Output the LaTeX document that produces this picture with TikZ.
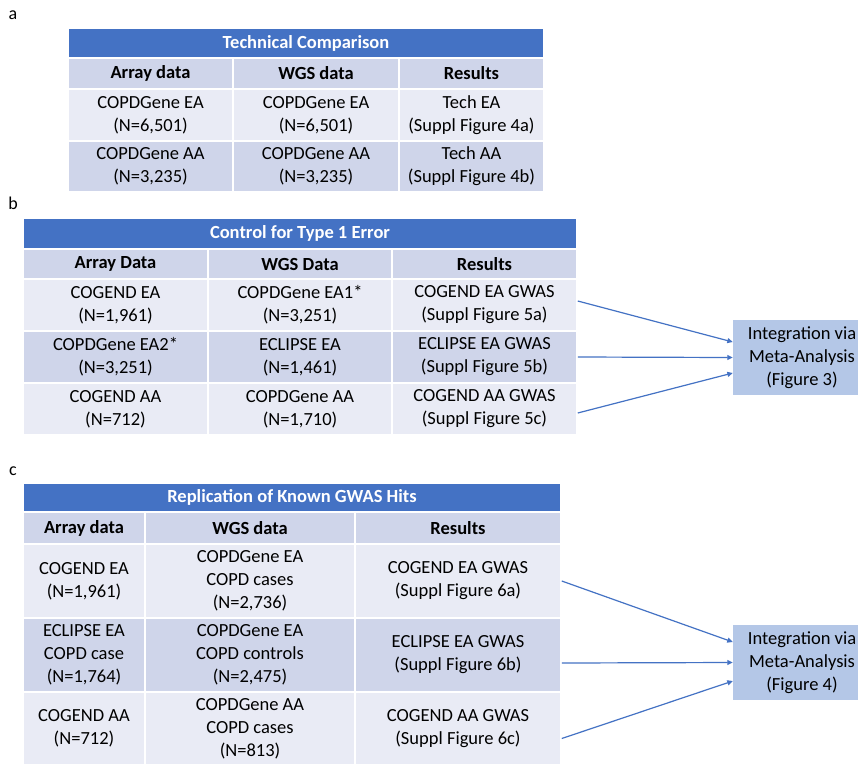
\documentclass[tikz,border=0pt]{standalone}
\usepackage{fontspec}
\setmainfont{Carlito}
\usetikzlibrary{arrows.meta,calc}
\definecolor{hdrblue}{HTML}{4472C4}
\definecolor{rowdark}{HTML}{CFD5EA}
\definecolor{rowlight}{HTML}{E9EBF5}
\definecolor{boxblue}{HTML}{B4C7E7}
\newcommand\mkcell[7]{%
  \node[cell, fill=#6, minimum width={#4pt-#2pt}, minimum height={#5pt-#3pt}]
    (#1) at ({(#2+#4)/2},{(#3+#5)/2}) {#7};}
\tikzset{
  cell/.style={draw=white, line width=1.5pt, inner sep=0pt, align=center,
    text=black, font=\fontsize{18.5}{23}\selectfont},
  ttl/.style={text=white, font=\fontsize{18.5}{23}\selectfont\bfseries},
  hd/.style={font=\fontsize{18.5}{23}\selectfont\bfseries},
  lbl/.style={inner sep=0pt, font=\fontsize{18}{22}\selectfont},
  meta/.style={fill=boxblue, inner sep=0pt, align=center, minimum width=138pt,
    minimum height=75pt, font=\fontsize{18.5}{23}\selectfont},
  conn/.style={draw=hdrblue, line width=1.2pt, -{Triangle[length=5.5pt,width=5pt]}}
}
\begin{document}
\begin{tikzpicture}[x=1pt,y=-1pt]
\clip (0,0) rectangle (858,763);
\fill[white] (0,0) rectangle (858,763);
% labels
\node[lbl] (la) at (13,15) {a};
\node[lbl] (lb) at (13,203) {b};
\node[lbl] (lc) at (13,471) {c};
% ---------- table a
\mkcell{aT}{68}{28}{544}{58}{hdrblue}{\textcolor{white}{\bfseries Technical Comparison}}
\mkcell{aH1}{68}{58}{233}{89}{rowdark}{\bfseries Array data}
\mkcell{aH2}{233}{58}{399}{89}{rowdark}{\bfseries WGS data}
\mkcell{aH3}{399}{58}{544}{89}{rowdark}{\bfseries Results}
\mkcell{aA1}{68}{89}{233}{141}{rowlight}{COPDGene EA\\(N=6,501)}
\mkcell{aW1}{233}{89}{399}{141}{rowlight}{COPDGene EA\\(N=6,501)}
\mkcell{aR1}{399}{89}{544}{141}{rowlight}{Tech EA\\(Suppl Figure 4a)}
\mkcell{aA2}{68}{141}{233}{192}{rowdark}{COPDGene AA\\(N=3,235)}
\mkcell{aW2}{233}{141}{399}{192}{rowdark}{COPDGene AA\\(N=3,235)}
\mkcell{aR2}{399}{141}{544}{192}{rowdark}{Tech AA\\(Suppl Figure 4b)}
% ---------- table b
\mkcell{bT}{23}{218}{577}{249}{hdrblue}{\textcolor{white}{\bfseries Control for Type 1 Error}}
\mkcell{bH1}{23}{249}{208}{279}{rowdark}{\bfseries Array Data}
\mkcell{bH2}{208}{249}{392}{279}{rowdark}{\bfseries WGS Data}
\mkcell{bH3}{392}{249}{577}{279}{rowdark}{\bfseries Results}
\mkcell{bA1}{23}{279}{208}{331}{rowlight}{COGEND EA\\(N=1,961)}
\mkcell{bW1}{208}{279}{392}{331}{rowlight}{COPDGene EA1*\\(N=3,251)}
\mkcell{bR1}{392}{279}{577}{331}{rowlight}{COGEND EA GWAS\\(Suppl Figure 5a)}
\mkcell{bA2}{23}{331}{208}{383}{rowdark}{COPDGene EA2*\\(N=3,251)}
\mkcell{bW2}{208}{331}{392}{383}{rowdark}{ECLIPSE EA\\(N=1,461)}
\mkcell{bR2}{392}{331}{577}{383}{rowdark}{ECLIPSE EA GWAS\\(Suppl Figure 5b)}
\mkcell{bA3}{23}{383}{208}{435}{rowlight}{COGEND AA\\(N=712)}
\mkcell{bW3}{208}{383}{392}{435}{rowlight}{COPDGene AA\\(N=1,710)}
\mkcell{bR3}{392}{383}{577}{435}{rowlight}{COGEND AA GWAS\\(Suppl Figure 5c)}
\node[meta] (mb) at (802,357.5) {Integration via\\Meta-Analysis\\(Figure 3)};
\draw[conn] ([yshift=4pt]bR1.east) -- ([yshift=15.5pt]mb.west);
\draw[conn] (bR2.east) -- (mb.west);
\draw[conn] ([yshift=-4pt]bR3.east) -- ([yshift=-15.5pt]mb.west);
% ---------- table c
\mkcell{cT}{23}{483}{561}{512}{hdrblue}{\textcolor{white}{\bfseries Replication of Known GWAS Hits}}
\mkcell{cH1}{23}{512}{145}{544}{rowdark}{\bfseries Array data}
\mkcell{cH2}{145}{512}{355}{544}{rowdark}{\bfseries WGS data}
\mkcell{cH3}{355}{512}{561}{544}{rowdark}{\bfseries Results}
\mkcell{cA1}{23}{544}{145}{618}{rowlight}{COGEND EA\\(N=1,961)}
\mkcell{cW1}{145}{544}{355}{618}{rowlight}{COPDGene EA\\COPD cases\\(N=2,736)}
\mkcell{cR1}{355}{544}{561}{618}{rowlight}{COGEND EA GWAS\\(Suppl Figure 6a)}
\mkcell{cA2}{23}{618}{145}{692}{rowdark}{ECLIPSE EA\\COPD case\\(N=1,764)}
\mkcell{cW2}{145}{618}{355}{692}{rowdark}{COPDGene EA\\COPD controls\\(N=2,475)}
\mkcell{cR2}{355}{618}{561}{692}{rowdark}{ECLIPSE EA GWAS\\(Suppl Figure 6b)}
\mkcell{cA3}{23}{692}{145}{765}{rowlight}{COGEND AA\\(N=712)}
\mkcell{cW3}{145}{692}{355}{765}{rowlight}{COPDGene AA\\COPD cases\\(N=813)}
\mkcell{cR3}{355}{692}{561}{765}{rowlight}{COGEND AA GWAS\\(Suppl Figure 6c)}
\node[meta] (mc) at (802,662.5) {Integration via\\Meta-Analysis\\(Figure 4)};
\draw[conn] (cR1.east) -- ([yshift=20.5pt]mc.west);
\draw[conn] ([yshift=-8pt]cR2.east) -- (mc.west);
\draw[conn] ([yshift=-10pt]cR3.east) -- ([yshift=-18.5pt]mc.west);
\end{tikzpicture}
\end{document}
